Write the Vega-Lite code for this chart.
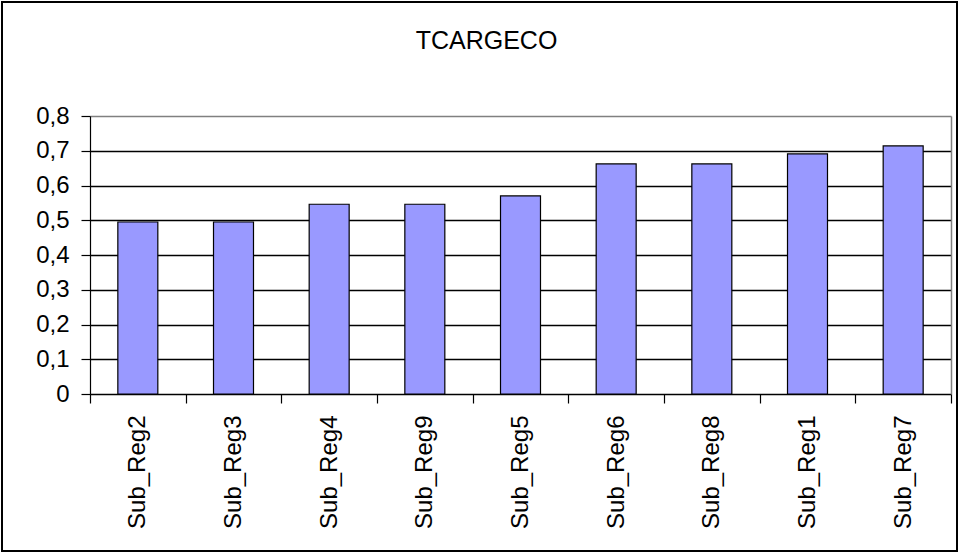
{
  "$schema": "https://vega.github.io/schema/vega-lite/v6.json",
  "width": 955,
  "height": 549,
  "autosize": {"type": "none"},
  "padding": {"left": 2, "top": 2, "right": 2, "bottom": 3},
  "background": "white",
  "title": {
    "text": "TCARGECO",
    "font": "Liberation Sans",
    "fontSize": 25,
    "fontWeight": "normal",
    "color": "black",
    "anchor": "middle",
    "offset": -52,
    "dx": 7
  },
  "data": {
    "values": [
      {"region": "Sub_Reg2", "value": 0.495},
      {"region": "Sub_Reg3", "value": 0.495},
      {"region": "Sub_Reg4", "value": 0.546},
      {"region": "Sub_Reg9", "value": 0.546},
      {"region": "Sub_Reg5", "value": 0.570},
      {"region": "Sub_Reg6", "value": 0.662},
      {"region": "Sub_Reg8", "value": 0.662},
      {"region": "Sub_Reg1", "value": 0.691},
      {"region": "Sub_Reg7", "value": 0.714}
    ]
  },
  "layer": [
    {
      "mark": {"type": "bar", "fill": "#9999FF", "stroke": "black", "strokeWidth": 1.2, "width": {"band": 0.418}},
      "encoding": {
        "x": {
          "field": "region",
          "type": "nominal",
          "sort": null,
          "scale": {"range": [88, 949], "paddingInner": 0, "paddingOuter": 0},
          "axis": {
            "title": null,
            "offset": -157,
            "tickBand": "extent",
            "grid": false,
            "domainColor": "black",
            "domainWidth": 1.2,
            "tickColor": "black",
            "tickWidth": 1.2,
            "tickSize": 9,
            "labelAngle": -90,
            "labelPadding": 12,
            "labelFont": "Liberation Sans",
            "labelFontSize": 24,
            "labelColor": "black"
          }
        },
        "y": {
          "field": "value",
          "type": "quantitative",
          "scale": {"domain": [0, 0.8], "range": [392, 114], "nice": false, "zero": true},
          "axis": {
            "title": null,
            "offset": -88,
            "values": [0, 0.1, 0.2, 0.3, 0.4, 0.5, 0.6, 0.7, 0.8],
            "labelExpr": "replace(format(datum.value, '.1~f'), '.', ',')",
            "grid": true,
            "gridColor": {"condition": {"test": "datum.value >= 0.79", "value": "#808080"}, "value": "black"},
            "gridWidth": 1.5,
            "domainColor": "black",
            "domainWidth": 1.2,
            "tickColor": "black",
            "tickWidth": 1.2,
            "tickSize": 9,
            "labelPadding": 12,
            "labelFont": "Liberation Sans",
            "labelFontSize": 24,
            "labelColor": "black"
          }
        }
      }
    },
    {
      "mark": {"type": "bar", "opacity": 0},
      "encoding": {
        "x": {"field": "region", "type": "nominal", "sort": null},
        "y": {
          "field": "value",
          "type": "quantitative",
          "axis": {
            "orient": "right",
            "title": null,
            "offset": -6,
            "labels": false,
            "ticks": false,
            "grid": false,
            "domainColor": "#808080",
            "domainWidth": 1.5
          }
        }
      }
    }
  ],
  "resolve": {"axis": {"y": "independent"}},
  "config": {
    "view": {"stroke": "black", "strokeWidth": 2},
    "font": "Liberation Sans"
  }
}
